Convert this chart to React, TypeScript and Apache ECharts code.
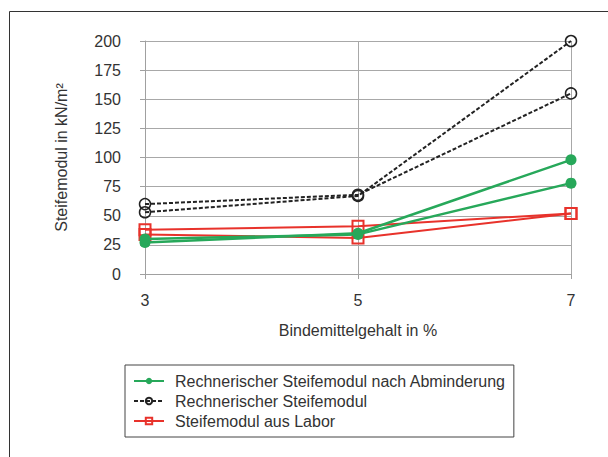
import React, { useEffect, useRef } from "react";
import * as echarts from "echarts";

const categories = ["3", "5", "7"];
const yTicks = [0, 25, 50, 75, 100, 125, 150, 175, 200];

const abminderungA = [27, 35, 98];
const abminderungB = [30, 34, 78];
const rechnerischA = [53, 67, 200];
const rechnerischB = [60, 68, 155];
const laborA = [38, 41, 52];
const laborB = [34, 31, 52];

const nameGreen = "Rechnerischer Steifemodul nach Abminderung";
const nameBlack = "Rechnerischer Steifemodul";
const nameRed = "Steifemodul aus Labor";

const FONT = "'Liberation Sans', Arial, sans-serif";
const GREEN = "#27a85a";
const RED = "#e8322b";
const BLACK = "#222222";

export default function App() {
  const ref = useRef<HTMLDivElement>(null);
  useEffect(() => {
    if (!ref.current) return;
    const chart = echarts.init(ref.current, undefined, { renderer: "svg" });
    const redSeries = (data: number[]) => ({
      type: "line",
      name: nameRed,
      data,
      symbol: "rect",
      symbolSize: 11,
      lineStyle: { color: RED, width: 2 },
      itemStyle: { color: "rgba(255,255,255,0)", borderColor: RED, borderWidth: 2 },
      z: 2,
    });
    const blackSeries = (data: number[]) => ({
      type: "line",
      name: nameBlack,
      data,
      symbol: "circle",
      symbolSize: 11,
      lineStyle: { color: BLACK, width: 2, type: [4, 2] },
      itemStyle: { color: "rgba(255,255,255,0)", borderColor: BLACK, borderWidth: 1.5 },
      z: 3,
    });
    const greenSeries = (data: number[]) => ({
      type: "line",
      name: nameGreen,
      data,
      symbol: "circle",
      symbolSize: 11,
      lineStyle: { color: GREEN, width: 2.5 },
      itemStyle: { color: GREEN, borderColor: GREEN, borderWidth: 0 },
      z: 4,
    });
    chart.setOption({
      animation: false,
      backgroundColor: "#ffffff",
      textStyle: { fontFamily: FONT },
      graphic: [
        {
          type: "rect",
          shape: { x: 9.5, y: 11.5, width: 640, height: 500 },
          style: { fill: "none", stroke: "#333", lineWidth: 1 },
          silent: true,
        },
      ],
      grid: { left: 145, right: 37, top: 41, bottom: 183 },
      legend: {
        data: [nameGreen, nameBlack, nameRed],
        orient: "vertical",
        left: 125,
        top: 365,
        padding: [8, 8, 8, 8],
        itemGap: 4,
        itemWidth: 30,
        itemHeight: 8,
        borderColor: "#444",
        borderWidth: 1,
        textStyle: { fontFamily: FONT, fontSize: 16, color: "#333", padding: [0, 0, 0, 6], lineHeight: 16 },
      },
      xAxis: {
        type: "category",
        data: categories,
        boundaryGap: false,
        name: "Bindemittelgehalt in %",
        nameLocation: "middle",
        nameGap: 48,
        nameTextStyle: { fontFamily: FONT, fontSize: 16, color: "#333" },
        axisLine: { lineStyle: { color: "#a0a0a0" } },
        axisTick: { show: true, length: 5, lineStyle: { color: "#a0a0a0" } },
        axisLabel: { margin: 18, fontFamily: FONT, fontSize: 16, color: "#333" },
        splitLine: { show: true, lineStyle: { color: "#a8a8a8" } },
      },
      yAxis: {
        type: "value",
        min: yTicks[0],
        max: yTicks[yTicks.length - 1],
        interval: 25,
        name: "Steifemodul in kN/m²",
        nameLocation: "middle",
        nameGap: 76,
        nameTextStyle: { fontFamily: FONT, fontSize: 16, color: "#333" },
        axisLine: { show: true, lineStyle: { color: "#a0a0a0" } },
        axisTick: { show: true, length: 5, lineStyle: { color: "#a0a0a0" } },
        axisLabel: { margin: 24, fontFamily: FONT, fontSize: 16, color: "#333" },
        splitLine: { show: true, lineStyle: { color: "#a8a8a8" } },
      },
      series: [
        redSeries(laborA),
        redSeries(laborB),
        blackSeries(rechnerischA),
        blackSeries(rechnerischB),
        greenSeries(abminderungA),
        greenSeries(abminderungB),
      ],
    });
    return () => chart.dispose();
  }, []);
  return <div ref={ref} style={{ width: 608, height: 457, position: "absolute", left: 0, top: 0 }} />;
}
